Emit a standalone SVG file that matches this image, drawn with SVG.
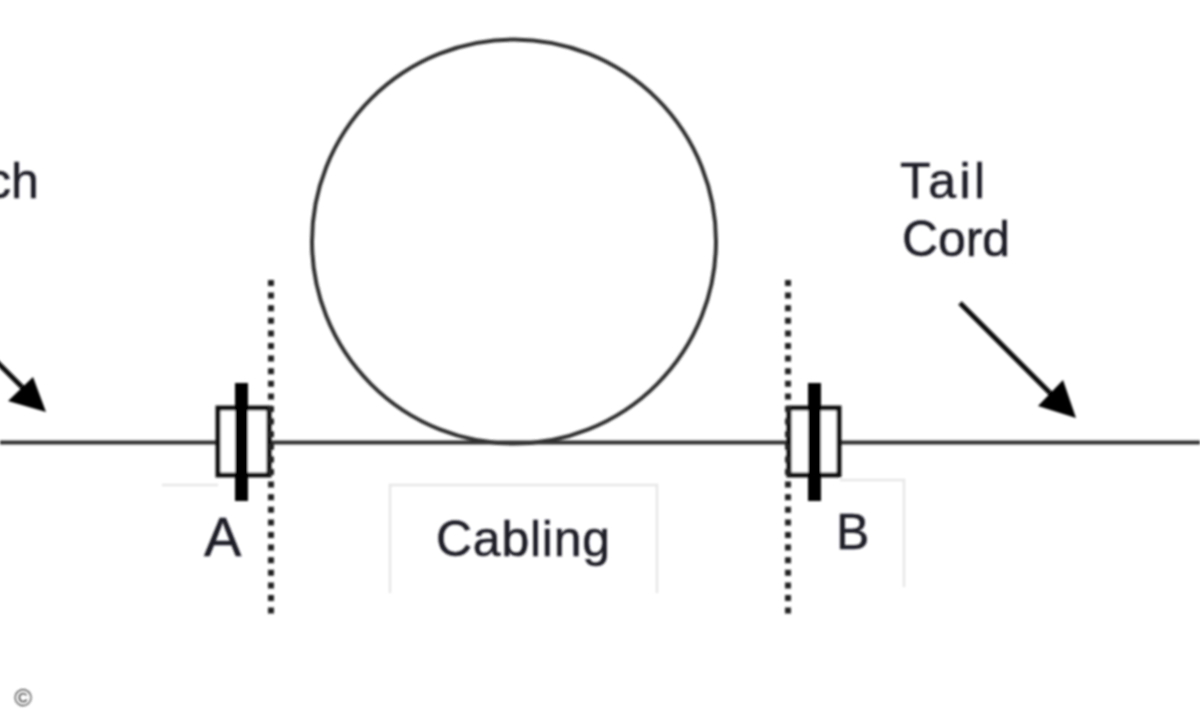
<svg xmlns="http://www.w3.org/2000/svg" width="1200" height="720" viewBox="0 0 1200 720">
<style>
.t{font-family:"Liberation Sans",Arial,sans-serif;font-size:50px;fill:#1c1c26;stroke:#1c1c26;stroke-width:.5}
.l{fill:none;stroke:#333;stroke-width:4}
.box{fill:#fff;stroke:#111;stroke-width:5}
.bar{fill:#000}
.dot{fill:none;stroke:#222;stroke-width:6;stroke-dasharray:6 6.6}
.g{fill:none;stroke:#e6e6e6;stroke-width:2.5}
.a{stroke:#111;stroke-width:5;fill:none}
.h{fill:#000}
</style>
<defs><filter id="b" x="-5%" y="-5%" width="110%" height="110%"><feGaussianBlur stdDeviation="0.9"/></filter></defs>
<rect width="1200" height="720" fill="#fff"/>
<g filter="url(#b)">
<g id="labelBoxes">
<path class="g" d="M162 485H218M390 593V485H657V593M840 480H904V587"/>
</g>
<g id="connectors">
<path class="l" d="M0 442.500H1200"/>
<path class="a" d="M-8 357L30 395M960 303L1060 403"/>
<path class="h" d="M46 412L33 377L8 401ZM1076 418L1063 380L1038 406Z"/>
</g>
<g id="loop"><circle class="l" cx="514" cy="241.500" r="202"/></g>
<g id="connectorA">
<rect class="box" x="218" y="408" width="51" height="67"/>
<rect class="bar" x="235" y="383" width="13" height="118"/>
<path class="dot" d="M271 280V618"/>
</g>
<g id="connectorB">
<rect class="box" x="789" y="408" width="50" height="67"/>
<rect class="bar" x="808" y="383" width="13" height="118"/>
<path class="dot" d="M788 280V618"/>
</g>
<g id="labels">
<text class="t" x="-14" y="198">ch</text>
<text class="t" x="900" y="198" textLength="85">Tail</text>
<text class="t" x="902" y="256" textLength="108">Cord</text>
<text class="t" x="204" y="556" style="font-size:56px">A</text>
<text class="t" x="436" y="556" textLength="174">Cabling</text>
<text class="t" x="836" y="549">B</text>
</g>
<g id="copyright"><text x="23" y="706" text-anchor="middle" font-family="'Liberation Sans',sans-serif" font-size="24" fill="#333">©</text></g>
</g>
</svg>
